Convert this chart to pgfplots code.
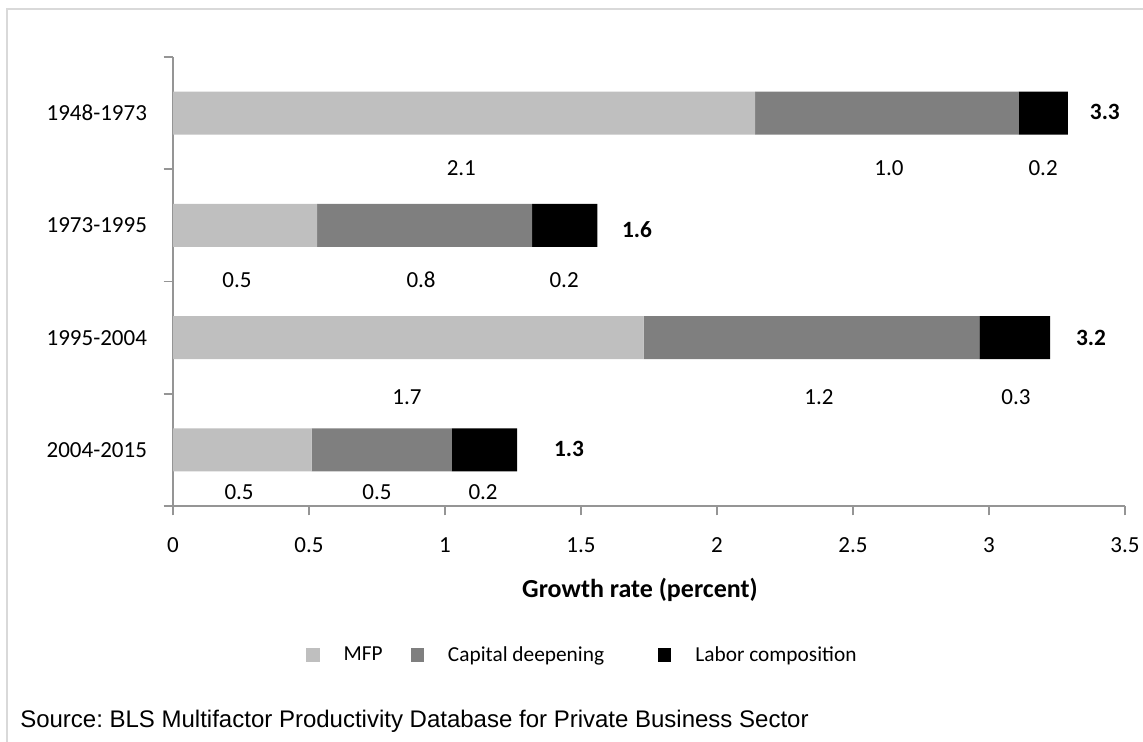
\documentclass[border=0pt]{standalone}
\usepackage{pgfplots}
\pgfplotsset{compat=1.18}
\usepackage{fontspec}
\setmainfont{Carlito}
\newfontfamily\arialfont{Liberation Sans}
\frenchspacing

\definecolor{mfp}{HTML}{BFBFBF}
\definecolor{capdeep}{HTML}{7F7F7F}
\definecolor{labor}{HTML}{000000}
\definecolor{axgray}{HTML}{959595}

\tikzset{
  seglab/.style={font=\fontsize{17.25}{20}\selectfont},
  totlab/.style={font=\bfseries\fontsize{17.5}{20}\selectfont},
}

\begin{document}
\begin{tikzpicture}[x=0.75pt,y=0.75pt]
\path[use as bounding box] (0,0) rectangle (1143,742);
\draw[black!15, line width=1.5pt] (7,-5) -- (7,733) -- (1150,733);
\begin{axis}[
  at={(129.75pt,177pt)}, anchor=south west,
  scale only axis, width=714pt, height=336.75pt,
  xbar stacked, bar width=32.25pt,
  xmin=0, xmax=3.5, ymin=-0.5, ymax=3.5,
  xtick={0,0.5,1,1.5,2,2.5,3,3.5},
  ytick={-0.5,0.5,1.5,2.5,3.5},
  yticklabels={2004-2015,1995-2004,1973-1995,1948-1973,},
  y tick label as interval,
  axis x line=bottom, axis y line=left,
  axis line style={-, axgray, line width=1.2pt},
  tick style={axgray, line width=1.2pt},
  tick align=outside, major tick length=7pt,
  /pgf/number format/assume math mode=true,
  ticklabel style={font=\fontsize{17.25}{20}\selectfont},
  yticklabel style={xshift=-9pt},
  xticklabel style={yshift=-13pt},
  xlabel={Growth rate (percent)},
  xlabel style={font=\bfseries\fontsize{19.5}{22}\selectfont,
    at={(axis description cs:0.4905,-0.187)}, anchor=center},
  legend columns=3,
  legend image code/.code={\fill[#1] (0pt,-5pt) rectangle (10pt,5pt);},
  legend style={at={(axis description cs:0.1397,-0.3318)}, anchor=west,
    draw=none, inner sep=0pt, font=\fontsize{16}{19}\selectfont,
    nodes={inner sep=0pt},
    /tikz/every odd column/.append style={column sep=18pt},
    /tikz/every even column/.append style={column sep=0pt}},
]
\addplot[fill=mfp, draw=none] coordinates {(0.51,0) (1.73,1) (0.53,2) (2.14,3)};
\addplot[fill=capdeep, draw=none] coordinates {(0.515,0) (1.235,1) (0.79,2) (0.97,3)};
\addplot[fill=labor, draw=none] coordinates {(0.24,0) (0.26,1) (0.24,2) (0.18,3)};
\legend{MFP\hspace*{21pt}, Capital deepening\hspace*{40.5pt}, Labor composition}

% segment values below each bar
\node[seglab] at (axis cs:1.06,2.511) {2.1};
\node[seglab] at (axis cs:2.632,2.511) {1.0};
\node[seglab] at (axis cs:3.199,2.511) {0.2};
\node[seglab] at (axis cs:0.235,1.513) {0.5};
\node[seglab] at (axis cs:0.912,1.513) {0.8};
\node[seglab] at (axis cs:1.438,1.513) {0.2};
\node[seglab] at (axis cs:0.86,0.471) {1.7};
\node[seglab] at (axis cs:2.375,0.471) {1.2};
\node[seglab] at (axis cs:3.099,0.471) {0.3};
\node[seglab] at (axis cs:0.243,-0.375) {0.5};
\node[seglab] at (axis cs:0.75,-0.375) {0.5};
\node[seglab] at (axis cs:1.14,-0.375) {0.2};
% totals
\node[totlab] at (axis cs:3.426,3.010) {3.3};
\node[totlab] at (axis cs:1.706,1.960) {1.6};
\node[totlab] at (axis cs:3.375,0.997) {3.2};
\node[totlab] at (axis cs:1.456,0.008) {1.3};
\end{axis}
\node[anchor=west, inner sep=0pt, font=\arialfont\fontsize{18}{21}\selectfont]
  at (20,21) {Source: BLS Multifactor Productivity Database for Private Business Sector};
\end{tikzpicture}
\end{document}
